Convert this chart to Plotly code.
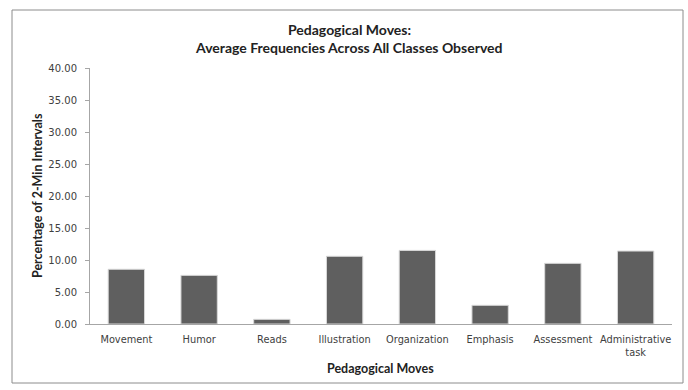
import plotly.graph_objects as go

categories = ["Movement", "Humor", "Reads", "Illustration", "Organization",
              "Emphasis", "Assessment", "Administrative<br>task"]
values = [8.55, 7.60, 0.73, 10.58, 11.50, 2.92, 9.48, 11.40]
y_ticks = [0, 5, 10, 15, 20, 25, 30, 35, 40]
y_tick_labels = [f"{v:.2f}" for v in y_ticks]

TITLE_FONT = "Lato, 'Open Sans', sans-serif"
TICK_FONT = "'DejaVu Sans', sans-serif"

# plot area in pixels: x 90..672, y 68..324
L, R, T, B = 90, 16, 68, 66
PW, PH = 688 - L - R, 390 - T - B


def px_x(p):
    return (p - L) / PW


def px_y(p):
    return (390 - B - p) / PH


fig = go.Figure(go.Bar(
    x=categories, y=values,
    marker=dict(color="#5f5f5f", line=dict(color="#d9d9d9", width=1)),
    width=0.5,
))

fig.update_layout(
    width=688, height=390,
    margin=dict(l=L, r=R, t=T, b=B),
    paper_bgcolor="white", plot_bgcolor="white",
    showlegend=False,
    font=dict(family=TICK_FONT, color="#404040", size=9.5),
    annotations=[
        dict(text="<b>Pedagogical Moves:</b>", x=px_x(349), y=px_y(29),
             xref="paper", yref="paper", showarrow=False, yanchor="middle",
             font=dict(size=14, color="#222222", family=TITLE_FONT)),
        dict(text="<b>Average Frequencies Across All Classes Observed</b>", x=px_x(349), y=px_y(47),
             xref="paper", yref="paper", showarrow=False, yanchor="middle",
             font=dict(size=14, color="#222222", family=TITLE_FONT)),
        dict(text="<b>Pedagogical Moves</b>", x=px_x(380), y=px_y(368),
             xref="paper", yref="paper", showarrow=False, yanchor="middle",
             font=dict(size=12.5, color="#222222", family=TITLE_FONT)),
        dict(text="<b>Percentage of 2-Min Intervals</b>", x=px_x(37), y=0.5,
             xref="paper", yref="paper", showarrow=False, textangle=-90,
             xanchor="center", yanchor="middle",
             font=dict(size=12.5, color="#222222", family=TITLE_FONT)),
    ],
    shapes=[
        dict(type="rect", xref="paper", yref="paper",
             x0=px_x(12), x1=px_x(683), y0=px_y(383), y1=px_y(10),
             line=dict(color="#8c8c8c", width=1), layer="below"),
    ],
)

fig.update_xaxes(
    automargin=False, tickangle=0,
    showline=True, linecolor="#a6a6a6", linewidth=1,
    ticks="", showgrid=False,
    ticklabelstandoff=6,
    tickfont=dict(size=9.8, family=TICK_FONT, color="#404040"),
)
fig.update_yaxes(
    automargin=False,
    range=[0, 40], tickvals=y_ticks, ticktext=y_tick_labels,
    showline=True, linecolor="#a6a6a6", linewidth=1,
    ticks="outside", ticklen=4, tickcolor="#a6a6a6",
    ticklabelstandoff=6,
    showgrid=False, zeroline=False,
    tickfont=dict(size=10, family=TICK_FONT, color="#404040"),
)

fig.write_html("out.html")
